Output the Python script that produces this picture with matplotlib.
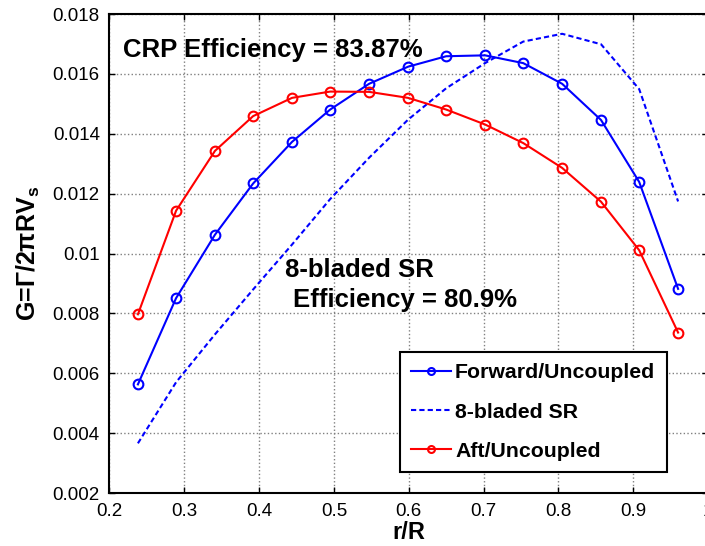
import matplotlib
matplotlib.use("Agg")
import matplotlib.pyplot as plt
from matplotlib.ticker import FuncFormatter

plt.rcParams['font.family'] = ['Liberation Sans', 'DejaVu Sans']
plt.rcParams['mathtext.fontset'] = 'custom'
plt.rcParams['mathtext.rm'] = 'Liberation Sans:bold'
plt.rcParams['mathtext.bf'] = 'Liberation Sans:bold'

# radial stations r/R
r = [0.238, 0.289, 0.341, 0.392, 0.444, 0.495, 0.547, 0.599,
     0.650, 0.702, 0.753, 0.805, 0.857, 0.908, 0.960]

# non-dimensional circulation G
g_forward = [0.00563, 0.00851, 0.01063, 0.01234, 0.01373, 0.01481, 0.01567, 0.01624,
             0.01659, 0.01662, 0.01636, 0.01567, 0.01446, 0.01239, 0.00882]
g_single = [0.00366, 0.00570, 0.00730, 0.00880, 0.01030, 0.01182, 0.01320, 0.01447,
            0.01552, 0.01636, 0.01708, 0.01734, 0.01699, 0.01549, 0.01174]
g_aft = [0.00797, 0.01143, 0.01343, 0.01459, 0.01520, 0.01541, 0.01540, 0.01520,
         0.01481, 0.01431, 0.01369, 0.01286, 0.01173, 0.01011, 0.00736]

crp_eff = 83.87
sr_eff = 80.9

fig = plt.figure(figsize=(7.05, 5.46), dpi=100)
ax = fig.add_axes([0.1553, 0.097, 0.849, 0.8773])

ax.plot(r, g_forward, '-o', color='#0000ff', lw=1.5, ms=7, mew=1.5,
        mfc='none', label='Forward/Uncoupled')
ax.plot(r, g_single, color='#0000ff', lw=1.5, dashes=(2.5, 1.5),
        label='8-bladed SR')
ax.plot(r, g_aft, '-o', color='#ff0000', lw=1.5, ms=7, mew=1.5,
        mfc='none', label='Aft/Uncoupled')

ax.set_xlim(0.2, 1.0)
ax.set_ylim(0.002, 0.018)
ax.set_xticks([0.2, 0.3, 0.4, 0.5, 0.6, 0.7, 0.8, 0.9, 1.0])
ax.set_yticks([0.002, 0.004, 0.006, 0.008, 0.01, 0.012, 0.014, 0.016, 0.018])
ax.xaxis.set_major_formatter(FuncFormatter(lambda v, p: '%g' % v))
ax.yaxis.set_major_formatter(FuncFormatter(lambda v, p: '%g' % v))
ax.tick_params(direction='in', length=4, width=1, top=True, right=True,
               labelsize=13.5, pad=7)
ax.grid(True, color='#808080', linestyle=':', linewidth=1)
for s in ax.spines.values():
    s.set_linewidth(1.5)

ax.set_xlabel('r/R', fontsize=17, fontweight='bold')
ax.xaxis.set_label_coords(0.5, -0.058)
ax.set_ylabel(r'G=Γ/2πRV$_{\mathbf{s}}$', fontsize=18, fontweight='bold')
ax.yaxis.set_label_coords(-0.113, 0.5)

ax.text(0.218, 0.01656, 'CRP Efficiency = %.2f%%' % crp_eff,
        fontsize=18.5, fontweight='bold', va='baseline')
ax.text(0.4346, 0.00923, '8-bladed SR',
        fontsize=18.5, fontweight='bold', va='baseline')
ax.text(0.4453, 0.00823, 'Efficiency = %.1f%%' % sr_eff,
        fontsize=18.5, fontweight='bold', va='baseline')

leg = ax.legend(loc='upper left', bbox_to_anchor=(0.485, 0.295),
                borderaxespad=0, fancybox=False, edgecolor='black',
                framealpha=1, prop={'size': 15.3, 'weight': 'bold'},
                handlelength=1.85, labelspacing=0.95, borderpad=0.55,
                handletextpad=0.2)
leg.get_frame().set_linewidth(1.5)
for h in leg.legend_handles:
    h.set_markersize(5)

fig.savefig('out.png', dpi=100)
